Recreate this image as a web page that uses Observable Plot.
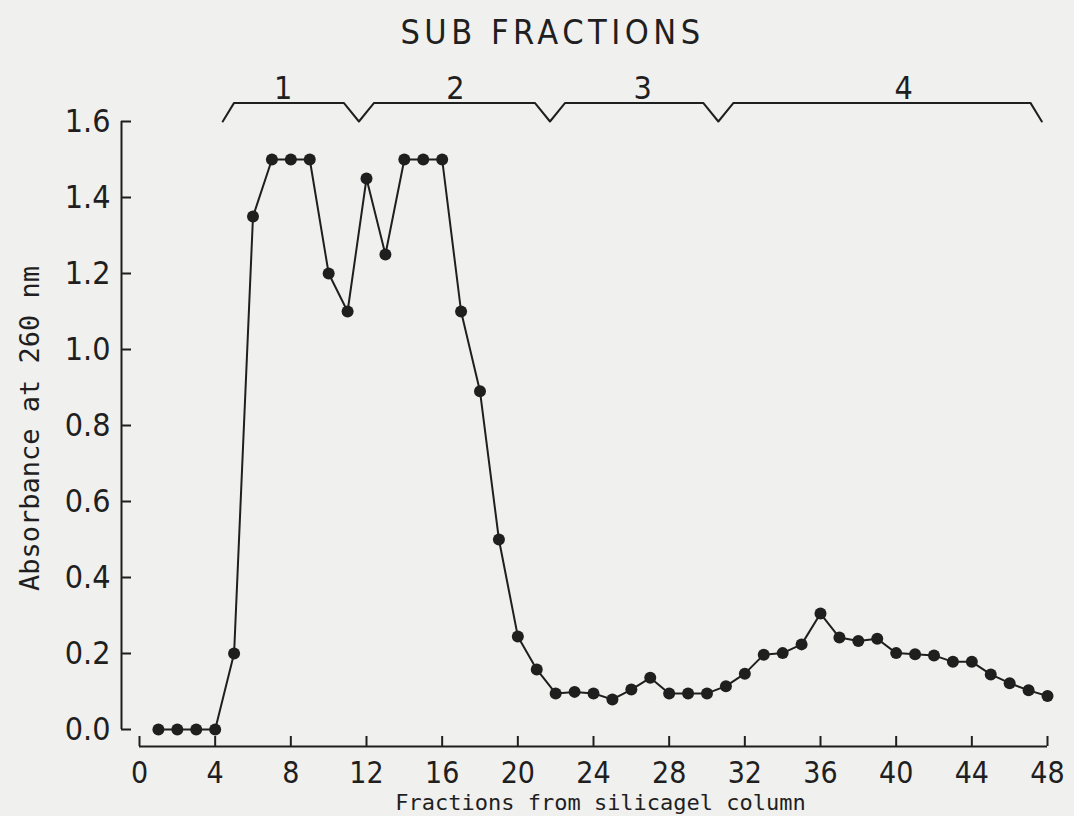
<!DOCTYPE html>
<html>
<head>
<meta charset="utf-8">
<script src="https://cdn.jsdelivr.net/npm/d3@7"></script>
<script src="https://cdn.jsdelivr.net/npm/@observablehq/plot@0.6"></script>
<style>
  html, body { margin: 0; padding: 0; background: #f0f0ee; }
  #chart svg { display: block; }
  .sub-title text { letter-spacing: 4.5px; }
</style>
</head>
<body>
<div id="chart"></div>
<script>
// Fraction number eluted from the silicagel column and its absorbance at 260 nm
const fractions = [1, 2, 3, 4, 5, 6, 7, 8, 9, 10, 11, 12, 13, 14, 15, 16, 17, 18, 19, 20, 21, 22, 23, 24,
  25, 26, 27, 28, 29, 30, 31, 32, 33, 34, 35, 36, 37, 38, 39, 40, 41, 42, 43, 44, 45, 46, 47, 48];
const absorbance = [0, 0, 0, 0, 0.2, 1.35, 1.5, 1.5, 1.5, 1.2, 1.1, 1.45, 1.25, 1.5, 1.5, 1.5,
  1.1, 0.89, 0.5, 0.245, 0.158, 0.095, 0.099, 0.095, 0.079, 0.105, 0.136, 0.095, 0.095, 0.095,
  0.114, 0.147, 0.197, 0.201, 0.224, 0.305, 0.242, 0.233, 0.239, 0.201, 0.198, 0.195, 0.178,
  0.178, 0.145, 0.122, 0.103, 0.088];

// Pooled sub fractions: bracket edges (in fraction units) and label positions
const subFractions = ["1", "2", "3", "4"];
const subLabelAt = [7.6, 16.7, 26.6, 40.4];
const subBounds = [4.4, 11.6, 21.7, 30.6, 47.7];

const xTicks = [0, 4, 8, 12, 16, 20, 24, 28, 32, 36, 40, 44, 48];
const yTicks = [0, 0.2, 0.4, 0.6, 0.8, 1.0, 1.2, 1.4, 1.6];

const data = fractions.map((f, i) => ({fraction: f, absorbance: absorbance[i]}));

// Bracket drawn just above the top of the y scale
const bracketTop = 1.649, bracketFoot = 1.6, notch = 0.8, slant = 0.6;
const bracket = [];
bracket.push({x: subBounds[0], y: bracketFoot}, {x: subBounds[0] + slant, y: bracketTop});
for (const b of subBounds.slice(1, -1)) {
  bracket.push({x: b - notch, y: bracketTop}, {x: b, y: bracketFoot}, {x: b + notch, y: bracketTop});
}
const last = subBounds[subBounds.length - 1];
bracket.push({x: last - slant, y: bracketTop}, {x: last, y: bracketFoot});

const subs = subFractions.map((s, i) => ({name: s, at: subLabelAt[i]}));

const W = 1074, H = 816;
const mL = 139, mR = 27, mT = 121, mB = 87;
const innerW = W - mL - mR, innerH = H - mT - mB;
const ink = "#1f1f1f";
const cond = "'DejaVu Sans Condensed', 'DejaVu Sans', sans-serif";
const mono = "'DejaVu Sans Mono', 'Liberation Mono', monospace";
const axisGapX = 17, axisGapY = 18, tick = 10;

const chart = Plot.plot({
  width: W,
  height: H,
  marginLeft: mL,
  marginRight: mR,
  marginTop: mT,
  marginBottom: mB,
  style: {background: "#f0f0ee", color: ink, fontFamily: cond, fontStretch: "condensed"},
  x: {domain: [0, 48]},
  y: {domain: [0, 1.6]},
  marks: [
    // detached axis lines with inward ticks
    Plot.ruleY([0], {dy: axisGapX, stroke: ink, strokeWidth: 2}),
    Plot.tickX(xTicks, {x: d => d, dy: axisGapX, insetTop: innerH - tick, stroke: ink, strokeWidth: 2}),
    Plot.ruleX([0], {dx: -axisGapY, stroke: ink, strokeWidth: 2}),
    Plot.tickY(yTicks, {y: d => d, dx: -axisGapY, insetRight: innerW - tick, stroke: ink, strokeWidth: 2}),
    Plot.axisX({ticks: xTicks, tickSize: 0, tickPadding: 32, fontSize: 30, label: null, fill: ink}),
    Plot.axisY({ticks: yTicks, tickSize: 0, tickPadding: 29, fontSize: 32, label: null, fill: ink,
      tickFormat: d => d.toFixed(1)}),
    Plot.text(["Absorbance at 260 nm"], {frameAnchor: "left", rotate: -90, dx: -109, dy: 3,
      textAnchor: "middle", fontFamily: mono, fontSize: 27, fill: ink, lineAnchor: "middle"}),
    Plot.text(["Fractions from silicagel column"], {frameAnchor: "bottom", dx: 7, dy: 73,
      textAnchor: "middle", fontFamily: mono, fontSize: 22, fill: ink, lineAnchor: "middle"}),
    // sub fraction bracket and labels
    Plot.line(bracket, {x: "x", y: "y", stroke: ink, strokeWidth: 2}),
    Plot.text(subs, {x: "at", text: "name", frameAnchor: "top", dy: -33, fontSize: 32,
      fill: ink, lineAnchor: "middle"}),
    Plot.text(["SUB FRACTIONS"], {frameAnchor: "top", dx: -41, dy: -88, fontSize: 34,
      textAnchor: "middle", fill: ink, lineAnchor: "middle", className: "sub-title"}),
    // absorbance profile
    Plot.line(data, {x: "fraction", y: "absorbance", stroke: ink, strokeWidth: 2}),
    Plot.dot(data, {x: "fraction", y: "absorbance", r: 6, fill: ink, stroke: "none"})
  ]
});
document.getElementById("chart").append(chart);
</script>
</body>
</html>
